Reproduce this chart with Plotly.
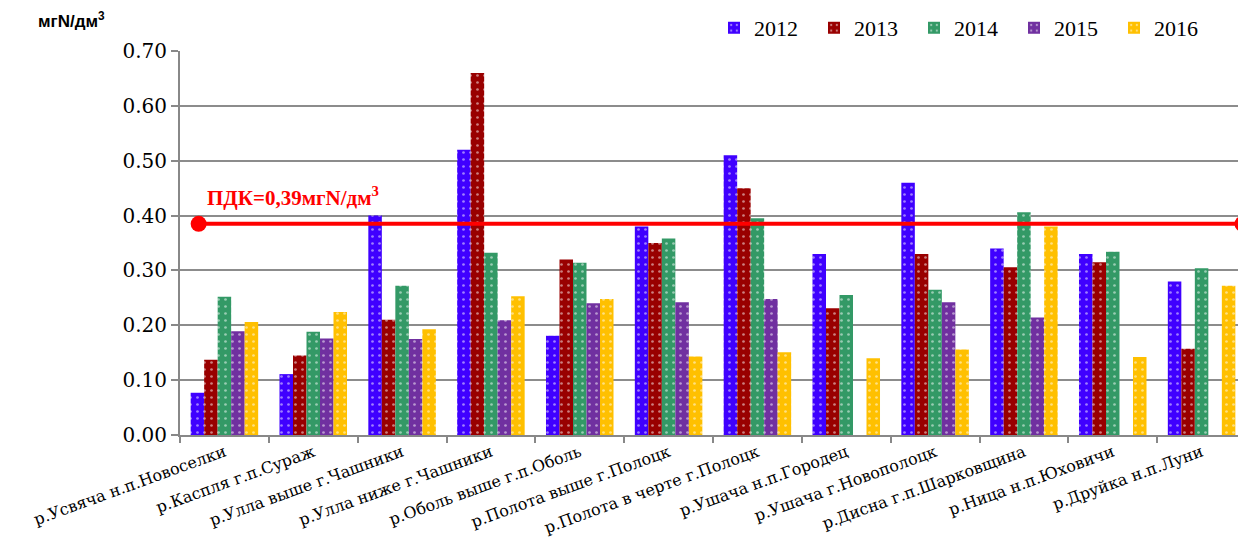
import plotly.graph_objects as go

categories = ["р.Усвяча н.п.Новоселки", "р.Каспля г.п.Сураж", "р.Улла выше г.Чашники",
              "р.Улла ниже г.Чашники", "р.Оболь выше г.п.Оболь", "р.Полота выше г.Полоцк",
              "р.Полота в черте г.Полоцк", "р.Ушача н.п.Городец", "р.Ушача г.Новополоцк",
              "р.Дисна г.п.Шарковщина", "р.Ница н.п.Юховичи", "р.Друйка н.п.Луни"]
years = ["2012", "2013", "2014", "2015", "2016"]
v2012 = [0.077, 0.111, 0.400, 0.520, 0.181, 0.380, 0.510, 0.330, 0.460, 0.340, 0.330, 0.280]
v2013 = [0.137, 0.145, 0.210, 0.660, 0.320, 0.350, 0.450, 0.231, 0.330, 0.306, 0.315, 0.157]
v2014 = [0.252, 0.188, 0.272, 0.332, 0.314, 0.358, 0.395, 0.255, 0.265, 0.406, 0.334, 0.304]
v2015 = [0.189, 0.176, 0.175, 0.209, 0.240, 0.242, 0.248, None, 0.242, 0.214, None, None]
v2016 = [0.206, 0.224, 0.193, 0.253, 0.248, 0.143, 0.151, 0.140, 0.156, 0.380, 0.142, 0.272]
pdk_x = [-0.29, 11.46]
pdk_y = [0.385, 0.385]
pdk_label = "<b>ПДК=0,39мгN/дм<sup>3</sup></b>"
y_ticks = [0.0, 0.1, 0.2, 0.3, 0.4, 0.5, 0.6, 0.7]

colors = ["#3F00FF", "#990000", "#339966", "#7030A0", "#FFC000"]
series = [v2012, v2013, v2014, v2015, v2016]
SERIF = "Liberation Serif, serif"
TICKSERIF = "DejaVu Serif"

fig = go.Figure()
for name, vals, col in zip(years, series, colors):
    fig.add_trace(go.Bar(
        x=categories, y=vals, name=name,
        marker=dict(color=col, line=dict(width=0),
                    pattern=dict(shape=".", fgcolor="white", size=7, solidity=0.12,
                                 fillmode="overlay")),
    ))

fig.add_trace(go.Scatter(
    x=pdk_x, y=pdk_y, xaxis="x2", mode="lines+markers",
    line=dict(color="#FF0000", width=4),
    marker=dict(color="#FF0000", size=16),
    showlegend=False, cliponaxis=False, hoverinfo="skip",
))

fig.update_layout(
    template="none",
    width=1238, height=530,
    margin=dict(l=172, r=0, t=43, b=103, autoexpand=False),
    paper_bgcolor="white", plot_bgcolor="white",
    barmode="group", bargap=0.24, bargroupgap=0,
    font=dict(family=SERIF, color="black", size=19),
    legend=dict(orientation="h", x=0.97, xanchor="right", y=1.06, yanchor="middle",
                font=dict(size=22, family=SERIF, color="black"),
                entrywidth=55, entrywidthmode="pixels", itemwidth=30,
                traceorder="normal"),
    xaxis=dict(type="category", tickson="boundaries", ticks="outside", ticklen=6,
               tickcolor="#888888", tickwidth=1.5, showline=True, linecolor="#888888", linewidth=2,
               tickangle=-20, tickfont=dict(size=16, family=TICKSERIF, color="black"),
               showgrid=False, zeroline=False, range=[-0.5, 11.5]),
    xaxis2=dict(overlaying="x", range=[-0.5, 11.5], visible=False),
    yaxis=dict(range=[0, 0.70], tickvals=y_ticks, tickformat=".2f",
               ticks="outside", ticklen=7, tickcolor="#888888", tickwidth=1.5,
               showline=True, linecolor="#888888", linewidth=2,
               showgrid=True, gridcolor="#8C8C8C", gridwidth=2,
               tickfont=dict(size=20, family=TICKSERIF, color="black"), zeroline=False),
    annotations=[
        dict(text="<b>мгN/дм<sup>3</sup></b>", xref="paper", yref="paper", x=-0.135, y=1.08,
             xanchor="left", yanchor="middle", showarrow=False,
             font=dict(size=17, family="Liberation Sans, sans-serif", color="black")),
        dict(text=pdk_label, xref="paper", yref="y", x=0.023, y=0.434,
             xanchor="left", yanchor="middle", showarrow=False,
             font=dict(size=21, family=SERIF, color="#FF0000")),
    ],
)

fig.write_html("out.html")
